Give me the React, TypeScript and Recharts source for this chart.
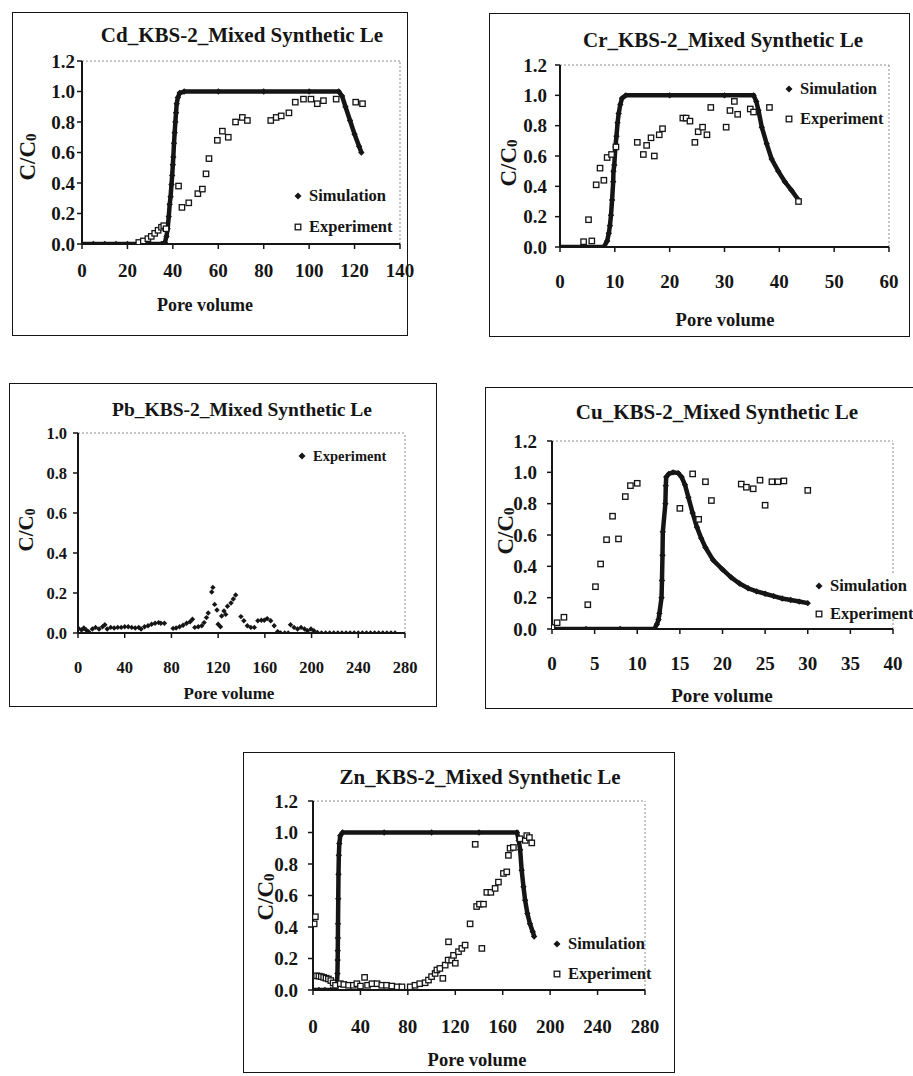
import React from 'react';
import { ScatterChart, Scatter, XAxis, YAxis, ReferenceLine } from 'recharts';

// ---------------- Data (pore volume, C/C0) ----------------
const cdSimulation: number[][] = [
  [0, 0], [5, 0], [10, 0], [15, 0], [20, 0], [25, 0], [30, 0], [35, 0], [36.5, 0.01], [37.2, 0.05],
  [37.7, 0.1], [38.2, 0.18], [38.6, 0.26], [39, 0.31], [39.4, 0.39], [39.7, 0.45], [40, 0.52],
  [40.2, 0.57], [40.5, 0.66], [40.8, 0.73], [41.1, 0.8], [41.4, 0.86], [41.7, 0.92], [42.2, 0.96],
  [43, 0.99], [45, 1.0], [60, 1.0], [80, 1.0], [100, 1.0], [113, 1.0], [114.5, 0.97], [116, 0.9],
  [118, 0.81], [120, 0.72], [122, 0.64], [123, 0.6],
];
const cdExperiment: number[][] = [
  [25, 0.01], [27, 0.02], [29, 0.035], [30.5, 0.05], [32, 0.07], [33.5, 0.09], [35, 0.11], [36, 0.12],
  [37, 0.1], [42.5, 0.38], [44, 0.24], [47, 0.27], [51, 0.33], [53, 0.36], [54.6, 0.46], [55.9, 0.56],
  [59.6, 0.68], [61.8, 0.74], [64.4, 0.7], [67.6, 0.8], [70.6, 0.83], [72.8, 0.81], [83.1, 0.81],
  [85.5, 0.83], [87.7, 0.84], [91.1, 0.86], [93.9, 0.93], [97.5, 0.95], [100.8, 0.95], [103.6, 0.92],
  [106.3, 0.94], [111.9, 0.95], [120.5, 0.93], [123.5, 0.92],
];

const crSimulation: number[][] = [
  [0, 0], [4, 0], [8, 0], [8.6, 0.04], [8.9, 0.09], [9.1, 0.14], [9.3, 0.21], [9.5, 0.31], [9.7, 0.43],
  [9.75, 0.5], [9.9, 0.54], [10.1, 0.66], [10.3, 0.73], [10.5, 0.82], [10.7, 0.88], [11, 0.94],
  [11.3, 0.98], [12, 1.0], [20, 1.0], [30, 1.0], [35.3, 1.0], [35.8, 0.96], [36.2, 0.9], [36.8, 0.79],
  [37.7, 0.68], [38.6, 0.58], [39.8, 0.5], [41, 0.43], [42.2, 0.375], [43.5, 0.31],
];
const crExperiment: number[][] = [
  [4.3, 0.035], [5.8, 0.04], [5.2, 0.18], [6.6, 0.41], [7.3, 0.52], [8.0, 0.44], [8.6, 0.59], [9.4, 0.61],
  [10.2, 0.66], [14.1, 0.69], [15.2, 0.61], [15.8, 0.67], [16.6, 0.72], [17.2, 0.6], [18.1, 0.74],
  [18.7, 0.78], [22.4, 0.85], [23.0, 0.85], [23.7, 0.83], [24.6, 0.69], [25.2, 0.76], [26.0, 0.79],
  [26.8, 0.74], [27.5, 0.92], [30.3, 0.79], [31.0, 0.9], [31.8, 0.96], [32.4, 0.875], [34.7, 0.91],
  [35.3, 0.89], [38.2, 0.92], [43.5, 0.3],
];

const pbExperiment: number[][] = [
  [0.5, 0.023], [3, 0.015], [5, 0.025], [7, 0.015], [9, 0.007], [12.3, 0.02], [15, 0.028], [18, 0.02],
  [21, 0.031], [23, 0.041], [25, 0.02], [28, 0.028], [31, 0.025], [34, 0.028], [37, 0.028], [40, 0.031],
  [43, 0.031], [46, 0.028], [49, 0.025], [52, 0.028], [54, 0.02], [57, 0.031], [60, 0.036], [63, 0.044],
  [66, 0.049], [69, 0.052], [71, 0.049], [74, 0.049], [81.4, 0.023], [84, 0.025], [87, 0.031],
  [90, 0.039], [93, 0.049], [96, 0.056], [98, 0.069], [100, 0.028], [103, 0.031], [106, 0.036],
  [108, 0.052], [110, 0.077], [111.5, 0.1], [114.5, 0.205], [115.5, 0.228], [117, 0.143], [119, 0.115],
  [120, 0.044], [122, 0.031], [123, 0.085], [125, 0.11], [126.5, 0.093], [128, 0.134], [131, 0.15],
  [133, 0.17], [135, 0.19], [139.5, 0.082], [142, 0.061], [145, 0.036], [148, 0.028], [151, 0.028],
  [154, 0.061], [157, 0.064], [159.5, 0.064], [162, 0.072], [165, 0.061], [168, 0.036], [171, 0.007],
  [173.5, 0], [177, 0], [180, 0], [182, 0.041], [185, 0.028], [188, 0.02], [191, 0.028], [194, 0.02],
  [196.5, 0.011], [199.5, 0.02], [202, 0.011], [205, 0.003], [208.5, 0], [212, 0], [215.5, 0], [219, 0],
  [222.5, 0], [226, 0], [229.5, 0], [233, 0], [236.5, 0], [240, 0], [243.5, 0], [247, 0], [250.5, 0],
  [254, 0], [257.5, 0], [261, 0], [264.5, 0], [268, 0], [271.5, 0],
];

const cuSimulation: number[][] = [
  [0, 0], [4, 0], [8, 0], [12, 0], [12.3, 0.03], [12.5, 0.06], [12.6, 0.1], [12.85, 0.2], [12.9, 0.31],
  [12.96, 0.47], [13.0, 0.62], [13.3, 0.8], [13.35, 0.915], [13.4, 0.97], [13.7, 0.99], [14.2, 1.0],
  [14.8, 0.995], [15.2, 0.97], [15.6, 0.92], [16.0, 0.84], [16.5, 0.74], [17.0, 0.65], [17.5, 0.58],
  [18.0, 0.52], [18.9, 0.44], [20, 0.38], [21, 0.33], [22, 0.29], [23, 0.26], [24, 0.24], [25, 0.225],
  [26, 0.21], [27, 0.195], [28, 0.185], [29, 0.175], [30, 0.165],
];
const cuExperiment: number[][] = [
  [0, 0.01], [0.6, 0.04], [1.4, 0.075], [4.2, 0.155], [5.1, 0.27], [5.7, 0.415], [6.4, 0.57],
  [7.1, 0.72], [7.8, 0.575], [8.6, 0.845], [9.2, 0.915], [10, 0.93], [15, 0.77], [16.5, 0.99],
  [17.2, 0.7], [18, 0.94], [18.7, 0.82], [22.2, 0.925], [22.8, 0.905], [23.6, 0.895], [24.4, 0.95],
  [25, 0.79], [25.8, 0.94], [26.5, 0.94], [27.2, 0.945], [30, 0.885],
];

const znSimulation: number[][] = [
  [0, 0], [5, 0], [10, 0], [15, 0], [19, 0], [20.3, 0.05], [20.6, 0.105], [20.8, 0.19], [20.9, 0.25],
  [21, 0.33], [21.1, 0.42], [21.3, 0.58], [21.5, 0.735], [21.8, 0.855], [22.2, 0.93], [23, 0.98],
  [25, 1.0], [60, 1.0], [100, 1.0], [140, 1.0], [172, 1.0], [173.5, 0.95], [174.7, 0.89], [176, 0.76],
  [177.5, 0.655], [178.9, 0.57], [180.8, 0.486], [183, 0.42], [185.3, 0.37], [186.5, 0.34],
];
const znExperiment: number[][] = [
  [1, 0.42], [2, 0.465], [3, 0.09], [5, 0.088], [7, 0.085], [9, 0.08], [11, 0.075], [13, 0.07],
  [15, 0.06], [17, 0.045], [19, 0.03], [23, 0.04], [26, 0.035], [30, 0.03], [34, 0.03], [37, 0.04],
  [40, 0.025], [43.5, 0.08], [46, 0.03], [49.7, 0.04], [54, 0.04], [58, 0.03], [62, 0.03], [66.5, 0.025],
  [71, 0.02], [75, 0.02], [82, 0.02], [86, 0.03], [90, 0.04], [94.6, 0.046], [97.4, 0.063], [100, 0.085],
  [103, 0.105], [104.5, 0.127], [107, 0.137], [109.5, 0.074], [111.5, 0.158], [114, 0.19], [114.3, 0.306],
  [117, 0.19], [118.5, 0.22], [120, 0.17], [122.7, 0.243], [125.5, 0.264], [128.3, 0.285], [132.5, 0.42],
  [136.8, 0.925], [138, 0.53], [140.4, 0.545], [143.8, 0.545], [142.4, 0.264], [146.6, 0.62], [150, 0.62],
  [153.6, 0.645], [156.4, 0.685], [160.6, 0.74], [163.4, 0.75], [164.8, 0.855], [166.2, 0.9], [169, 0.905],
  [174.7, 0.96], [179, 0.95], [180.3, 0.98], [182.5, 0.968], [184.5, 0.934],
];

// ---------------- Ticks ----------------
const cdXTicks = [0, 20, 40, 60, 80, 100, 120, 140];
const crXTicks = [0, 10, 20, 30, 40, 50, 60];
const pbXTicks = [0, 40, 80, 120, 160, 200, 240, 280];
const cuXTicks = [0, 5, 10, 15, 20, 25, 30, 35, 40];
const znXTicks = [0, 40, 80, 120, 160, 200, 240, 280];
const yTicks12 = [0, 0.2, 0.4, 0.6, 0.8, 1.0, 1.2];
const pbYTicks = [0, 0.2, 0.4, 0.6, 0.8, 1.0];

const toPoints = (rows: number[][]) => rows.map(([x, y]) => ({ x, y }));

const FONT = '"Liberation Serif", "Times New Roman", serif';
const INK = '#151515';
const EXTRA = 30; // extra room on the right of each chart so edge tick labels are not clipped

const diamondShape = (r: number) => (props: any) => {
  const { cx, cy } = props;
  if (cx == null || cy == null) return <g />;
  return <path d={`M${cx},${cy - r}L${cx + r},${cy}L${cx},${cy + r}L${cx - r},${cy}Z`} fill={INK} />;
};
const squareShape = (props: any) => {
  const { cx, cy } = props;
  if (cx == null || cy == null) return <g />;
  return <rect x={cx - 2.7} y={cy - 2.7} width={5.4} height={5.4} fill="#fff" stroke={INK} strokeWidth={1.3} />;
};

type Cfg = {
  title: string;
  titleSize: number;
  titleAt: [number, number];
  box: [number, number, number, number];
  plot: [number, number, number, number];
  xDomain: [number, number];
  xTicks: number[];
  yDomain: [number, number];
  yTicks: number[];
  sim?: number[][];
  exp: number[][];
  expFilled?: boolean;
  tickSize: number;
  xTickMargin: number;
  yTickMargin: number;
  xLabelAt: [number, number];
  xLabelSize: number;
  yLabelAt: [number, number];
  yLabelSize: number;
  legendAt: [number, number];
  legendGap: number;
  legendSize: number;
  legendBg?: boolean;
};

const panels: Cfg[] = [
  {
    title: 'Cd_KBS-2_Mixed Synthetic Le', titleSize: 21, titleAt: [242, 35],
    box: [12, 12, 396, 324], plot: [82, 61, 400, 244],
    xDomain: [0, 140], xTicks: cdXTicks, yDomain: [0, 1.2], yTicks: yTicks12,
    sim: cdSimulation, exp: cdExperiment,
    tickSize: 19, xTickMargin: 15, yTickMargin: 2,
    xLabelAt: [205, 305], xLabelSize: 18, yLabelAt: [27, 157], yLabelSize: 23,
    legendAt: [298, 197], legendGap: 31, legendSize: 16.5,
  },
  {
    title: 'Cr_KBS-2_Mixed Synthetic Le', titleSize: 21, titleAt: [723, 40],
    box: [489, 13, 421, 324], plot: [560, 65, 889, 247],
    xDomain: [0, 60], xTicks: crXTicks, yDomain: [0, 1.2], yTicks: yTicks12,
    sim: crSimulation, exp: crExperiment,
    tickSize: 19, xTickMargin: 23, yTickMargin: 8,
    xLabelAt: [725, 320], xLabelSize: 18.5, yLabelAt: [508, 163], yLabelSize: 23,
    legendAt: [789, 90], legendGap: 30, legendSize: 16.5,
  },
  {
    title: 'Pb_KBS-2_Mixed Synthetic Le', titleSize: 19.5, titleAt: [242, 410],
    box: [9, 383, 428, 324], plot: [78, 433, 405, 633],
    xDomain: [0, 280], xTicks: pbXTicks, yDomain: [0, 1.0], yTicks: pbYTicks,
    exp: pbExperiment, expFilled: true,
    tickSize: 16.5, xTickMargin: 23, yTickMargin: 6,
    xLabelAt: [229, 693], xLabelSize: 17, yLabelAt: [26, 530], yLabelSize: 21,
    legendAt: [302, 457], legendGap: 0, legendSize: 14.5,
  },
  {
    title: 'Cu_KBS-2_Mixed Synthetic Le', titleSize: 21, titleAt: [717, 412],
    box: [485, 387, 440, 322], plot: [552, 441, 893, 629],
    xDomain: [0, 40], xTicks: cuXTicks, yDomain: [0, 1.2], yTicks: yTicks12,
    sim: cuSimulation, exp: cuExperiment,
    tickSize: 19, xTickMargin: 23, yTickMargin: 10,
    xLabelAt: [722, 695], xLabelSize: 19, yLabelAt: [505, 531], yLabelSize: 23,
    legendAt: [819, 587], legendGap: 28, legendSize: 16.5, legendBg: true,
  },
  {
    title: 'Zn_KBS-2_Mixed Synthetic Le', titleSize: 21, titleAt: [480, 777],
    box: [243, 752, 432, 321], plot: [313, 801, 645, 990],
    xDomain: [0, 280], xTicks: znXTicks, yDomain: [0, 1.2], yTicks: yTicks12,
    sim: znSimulation, exp: znExperiment,
    tickSize: 19, xTickMargin: 25, yTickMargin: 10,
    xLabelAt: [477, 1060], xLabelSize: 18.5, yLabelAt: [265, 897], yLabelSize: 23,
    legendAt: [557, 945], legendGap: 30, legendSize: 16.5,
  },
];

const textStyle = (size: number): React.CSSProperties => ({
  position: 'absolute',
  fontFamily: FONT,
  fontWeight: 700,
  fontSize: size,
  color: INK,
  whiteSpace: 'nowrap',
  lineHeight: 1,
});

function LegendRow({ x, y, size, label, kind }: { x: number; y: number; size: number; label: string; kind: 'diamond' | 'square' }) {
  return (
    <div style={{ ...textStyle(size), left: x - 5, top: y - size * 0.55, display: 'flex', alignItems: 'center' }}>
      <svg width={10} height={10} style={{ marginRight: 6 }}>
        {kind === 'diamond' ? (
          <path d="M5,1.5L8.5,5L5,8.5L1.5,5Z" fill={INK} />
        ) : (
          <rect x={2.2} y={2.2} width={5.6} height={5.6} fill="#fff" stroke={INK} strokeWidth={1.3} />
        )}
      </svg>
      <span>{label}</span>
    </div>
  );
}

function Panel({ cfg }: { cfg: Cfg }) {
  const [bx, by, bw, bh] = cfg.box;
  const [pl, pt, pr, pb] = cfg.plot;
  const tick = { fill: INK, fontSize: cfg.tickSize, fontWeight: 700, fontFamily: FONT };
  return (
    <>
      <div style={{ position: 'absolute', left: bx, top: by, width: bw, height: bh, border: `1.5px solid ${INK}`, boxSizing: 'border-box' }} />
      <div style={{ position: 'absolute', left: bx, top: by }}>
        <ScatterChart width={bw + EXTRA} height={bh} margin={{ top: pt - by, right: bx + bw + EXTRA - pr, left: 0, bottom: 0 }}>
          <XAxis
            type="number" dataKey="x" domain={cfg.xDomain} ticks={cfg.xTicks} interval={0}
            height={by + bh - pb} tick={tick} tickMargin={cfg.xTickMargin} tickSize={5}
            axisLine={{ stroke: INK, strokeWidth: 2 }} tickLine={{ stroke: INK, strokeWidth: 1.5 }}
            allowDataOverflow
          />
          <YAxis
            type="number" dataKey="y" domain={cfg.yDomain} ticks={cfg.yTicks} interval={0}
            width={pl - bx} tick={tick} tickMargin={cfg.yTickMargin} tickSize={5}
            tickFormatter={(v: number) => v.toFixed(1)}
            axisLine={{ stroke: INK, strokeWidth: 2 }} tickLine={{ stroke: INK, strokeWidth: 1.5 }}
            allowDataOverflow
          />
          <ReferenceLine y={cfg.yDomain[1]} stroke="#8a8a8a" strokeWidth={1} strokeDasharray="2 2" />
          <ReferenceLine x={cfg.xDomain[1]} stroke="#8a8a8a" strokeWidth={1} strokeDasharray="2 2" />
          {cfg.sim && (
            <Scatter
              data={toPoints(cfg.sim)} shape={diamondShape(3.2)} line={{ stroke: INK, strokeWidth: 4.5 }}
              lineType="joint" isAnimationActive={false}
            />
          )}
          <Scatter
            data={toPoints(cfg.exp)} shape={cfg.expFilled ? diamondShape(2.7) : squareShape}
            isAnimationActive={false}
          />
        </ScatterChart>
      </div>
      <div style={{ ...textStyle(cfg.titleSize), left: cfg.titleAt[0], top: cfg.titleAt[1], transform: 'translate(-50%, -50%)' }}>
        {cfg.title}
      </div>
      <div style={{ ...textStyle(cfg.xLabelSize), left: cfg.xLabelAt[0], top: cfg.xLabelAt[1], transform: 'translate(-50%, -50%)' }}>
        Pore volume
      </div>
      <svg style={{ position: 'absolute', left: cfg.yLabelAt[0] - 16, top: cfg.yLabelAt[1] - 45 }} width={32} height={90}>
        <text
          transform="translate(16,45) rotate(-90)" textAnchor="middle" dominantBaseline="central"
          fontFamily={FONT} fontWeight={700} fontSize={cfg.yLabelSize} fill={INK}
        >
          C/C<tspan fontSize={cfg.yLabelSize * 0.65} dy={4}>0</tspan>
        </text>
      </svg>
      {cfg.legendBg && (
        <div style={{ position: 'absolute', left: cfg.legendAt[0] - 8, top: cfg.legendAt[1] - 14, width: 120, height: 45, background: '#fff' }} />
      )}
      {cfg.sim ? (
        <>
          <LegendRow x={cfg.legendAt[0]} y={cfg.legendAt[1]} size={cfg.legendSize} label="Simulation" kind="diamond" />
          <LegendRow x={cfg.legendAt[0]} y={cfg.legendAt[1] + cfg.legendGap} size={cfg.legendSize} label="Experiment" kind="square" />
        </>
      ) : (
        <LegendRow x={cfg.legendAt[0]} y={cfg.legendAt[1]} size={cfg.legendSize} label="Experiment" kind="diamond" />
      )}
    </>
  );
}

export default function App() {
  return (
    <div style={{ position: 'absolute', left: 0, top: 0, width: 913, height: 1076, overflow: 'hidden', background: '#fff' }}>
      {panels.map((p) => (
        <Panel key={p.title} cfg={p} />
      ))}
    </div>
  );
}
